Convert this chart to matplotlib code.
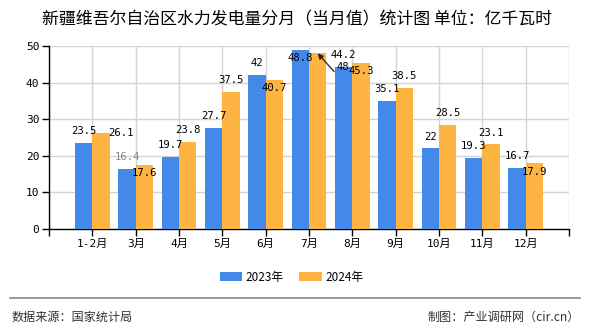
import matplotlib.pyplot as plt
import numpy as np

months = ["1-2月", "3月", "4月", "5月", "6月", "7月", "8月", "9月", "10月", "11月", "12月"]
values_2023 = [23.5, 16.4, 19.7, 27.7, 42, 48.8, 44.2, 35.1, 22, 19.3, 16.7]
values_2024 = [26.1, 17.6, 23.8, 37.5, 40.7, 48, 45.3, 38.5, 28.5, 23.1, 17.9]

title = "新疆维吾尔自治区水力发电量分月（当月值）统计图 单位：亿千瓦时"
source = "数据来源：国家统计局"
maker = "制图：产业调研网（cir.cn）"

BLUE = "#4289ea"
ORANGE = "#fdb443"
num_font = ["DejaVu Sans Mono", "Noto Sans CJK SC"]
cjk_font = ["Noto Sans CJK SC", "DejaVu Sans"]

# label nudges in points (dx, dy), default sits above the bar
nudge_2023 = {1: (0, 8.6, "#888888"), 5: (0, -5.8, "black")}
nudge_2024 = {0: (14, 0.7, "black"), 1: (0, -5.8, "black"), 4: (0, -5.8, "black"),
              6: (0, -5.8, "black"), 10: (0, -5.8, "black")}

fig = plt.figure(figsize=(5.9, 3.3), dpi=100)
ax = fig.add_axes([49 / 590, 1 - 229 / 330, 520 / 590, 183 / 330])

x = np.arange(len(months))
w = 0.4
bars1 = ax.bar(x - w / 2, values_2023, w, color=BLUE, label="2023年", zorder=3)
bars2 = ax.bar(x + w / 2, values_2024, w, color=ORANGE, label="2024年", zorder=3)

for i, v in enumerate(values_2023):
    dx, dy, c = nudge_2023.get(i, (0, 8.6, "black"))
    ax.annotate(f"{v:g}", (x[i] - w / 2, v), xytext=(dx, dy), textcoords="offset points",
                ha="center", va="center", fontsize=7.6, family=num_font, color=c, zorder=5)

for i, v in enumerate(values_2024):
    if i == 5:
        # July 2024 label sits off to the right with a leader line
        ax.annotate(f"{v:g}", (x[i] + w / 2, v), xytext=(18.5, -10), textcoords="offset points",
                    ha="center", va="center", fontsize=7.6, family=num_font, zorder=5,
                    arrowprops=dict(arrowstyle="-|>", color="#222222", lw=0.9,
                                    shrinkA=0, shrinkB=0, relpos=(1, 0),
                                    connectionstyle="angle,angleA=180,angleB=132,rad=0",
                                    mutation_scale=8))
        continue
    dx, dy, c = nudge_2024.get(i, (0, 8.6, "black"))
    ax.annotate(f"{v:g}", (x[i] + w / 2, v), xytext=(dx, dy), textcoords="offset points",
                ha="center", va="center", fontsize=7.6, family=num_font, color=c, zorder=5)

ax.set_xlim(-1, len(months))
ax.set_ylim(0, 50)
ax.set_yticks(range(0, 51, 10))
ax.set_xticks(np.arange(-1, len(months) + 1))
ax.set_xticklabels([""] + months + [""])
ax.tick_params(axis="both", length=5, width=1, color="black", labelsize=8, pad=2)
for lab in ax.get_xticklabels() + ax.get_yticklabels():
    lab.set_family(num_font)

ax.grid(True, color="#d4d4d4", lw=1, zorder=0)
for s in ["top", "right"]:
    ax.spines[s].set_visible(False)
for s in ["left", "bottom"]:
    ax.spines[s].set_color("black")
    ax.spines[s].set_linewidth(1)

fig.text(0.503, 1 - 19 / 330, title, ha="center", va="center", fontsize=12.2, family=cjk_font)

fig.legend(handles=[bars1, bars2], loc="center", bbox_to_anchor=(0.494, 1 - 277 / 330),
           ncol=2, frameon=False, prop={"family": cjk_font, "size": 8.5},
           handlelength=1.9, handleheight=0.7, handletextpad=0.3, columnspacing=1.3)

fig.add_artist(plt.Line2D([10 / 590, 580 / 590], [1 - 298 / 330, 1 - 298 / 330],
                          transform=fig.transFigure, color="#888888", lw=1.2))
fig.text(12 / 590, 1 - 317 / 330, source, ha="left", va="center", fontsize=8.7,
         family=cjk_font, color="#333333")
fig.text(580 / 590, 1 - 317 / 330, maker, ha="right", va="center", fontsize=8.7,
         family=cjk_font, color="#333333")

fig.savefig("out.png", dpi=100)
